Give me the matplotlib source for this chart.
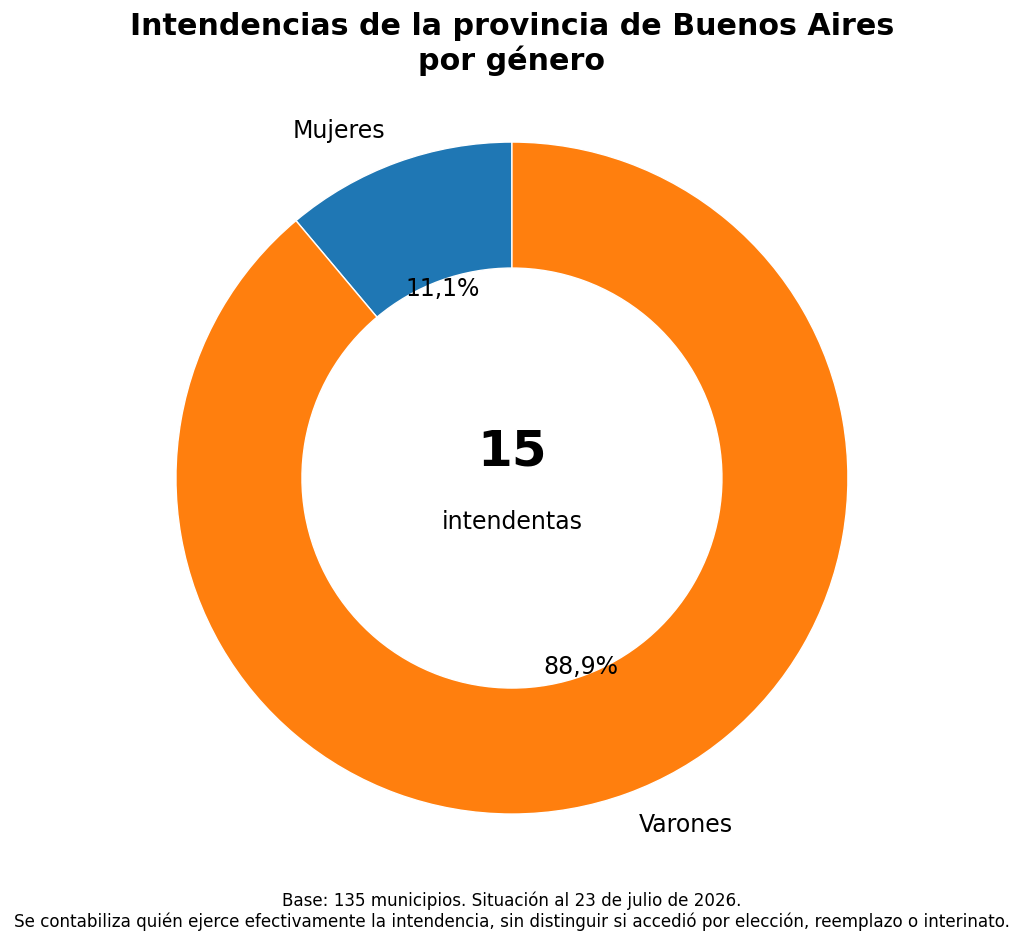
import matplotlib
matplotlib.use("Agg")
import matplotlib.pyplot as plt

# datos
generos = ["Mujeres", "Varones"]
cantidades = [15, 120]
colores = ["#1f77b4", "#ff7f0e"]
total_mujeres = 15
titulo = "Intendencias de la provincia de Buenos Aires\npor género"
nota = ("Base: 135 municipios. Situación al 23 de julio de 2026.\n"
        "Se contabiliza quién ejerce efectivamente la intendencia, sin distinguir si accedió por elección, reemplazo o interinato.")

fig = plt.figure(figsize=(10.24, 9.44), dpi=100)
ax = fig.add_axes([0.0898, 0.0487, 0.8203, 0.8898])

wedges, textos, autotextos = ax.pie(
    cantidades, labels=generos, colors=colores, startangle=90,
    autopct=lambda p: ("%.1f%%" % p).replace(".", ","),
    pctdistance=0.6, labeldistance=1.1,
    wedgeprops=dict(width=0.375, edgecolor="white", linewidth=1),
    textprops=dict(fontsize=17))
ax.set_xlim(-1.25, 1.25)
ax.set_ylim(-1.25, 1.25)
ax.set_aspect("equal")

ax.text(0, 0.08, str(total_mujeres), ha="center", va="center", fontsize=36, fontweight="bold")
ax.text(0, -0.13, "intendentas", ha="center", va="center", fontsize=17)

fig.text(0.5, 1 - 12 / 944, titulo, ha="center", va="top", fontsize=21.7, fontweight="bold")
fig.text(0.5, 13 / 944, nota, ha="center", va="bottom", fontsize=12.1, linespacing=1.15)

fig.savefig("out.png", dpi=100)
